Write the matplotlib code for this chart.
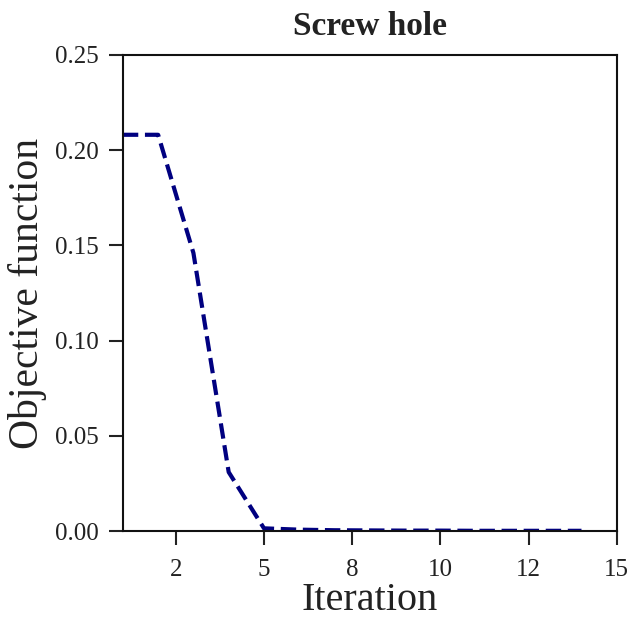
import matplotlib
matplotlib.use("Agg")
from matplotlib import pyplot as plt
from matplotlib.ticker import FixedLocator, FuncFormatter

# objective value per optimisation iteration
iterations = list(range(1, 15))
objective = [0.208, 0.208, 0.146, 0.031, 0.0015, 0.0008, 0.0005, 0.0004,
             0.0003, 0.0003, 0.0002, 0.0002, 0.0002, 0.0002]

x_ticks = [2.5, 5.0, 7.5, 10.0, 12.5, 15.0]
y_ticks = [0.00, 0.05, 0.10, 0.15, 0.20, 0.25]

plt.rcParams["font.family"] = ["Liberation Serif", "DejaVu Serif"]

fig = plt.figure(figsize=(6.3, 6.22), dpi=100)
ax = fig.add_axes([0.195, 0.146, 0.784, 0.766])

ax.plot(iterations, objective, color="#000080", linestyle="--", linewidth=3)

ax.set_xlim(1, 15)
ax.set_ylim(0, 0.25)
ax.xaxis.set_major_locator(FixedLocator(x_ticks))
ax.xaxis.set_major_formatter(FuncFormatter(lambda v, pos: "%d" % round(v)))
ax.yaxis.set_major_locator(FixedLocator(y_ticks))
ax.yaxis.set_major_formatter(FuncFormatter(lambda v, pos: "%.2f" % v))

ax.tick_params(axis="both", direction="out", length=10, width=1.5,
               labelsize=18, colors="#222222", pad=7)
ax.tick_params(axis="x", pad=10)
for spine in ax.spines.values():
    spine.set_linewidth(1.5)
    spine.set_color("#111111")

ax.set_xlabel("Iteration", fontsize=29, color="#222222", labelpad=1)
ax.set_ylabel("Objective function", fontsize=30, color="#222222", labelpad=6)
ax.set_title("Screw hole", fontsize=24, fontweight="bold", color="#222222", pad=14)

fig.savefig("out.png", dpi=100)
plt.close(fig)
